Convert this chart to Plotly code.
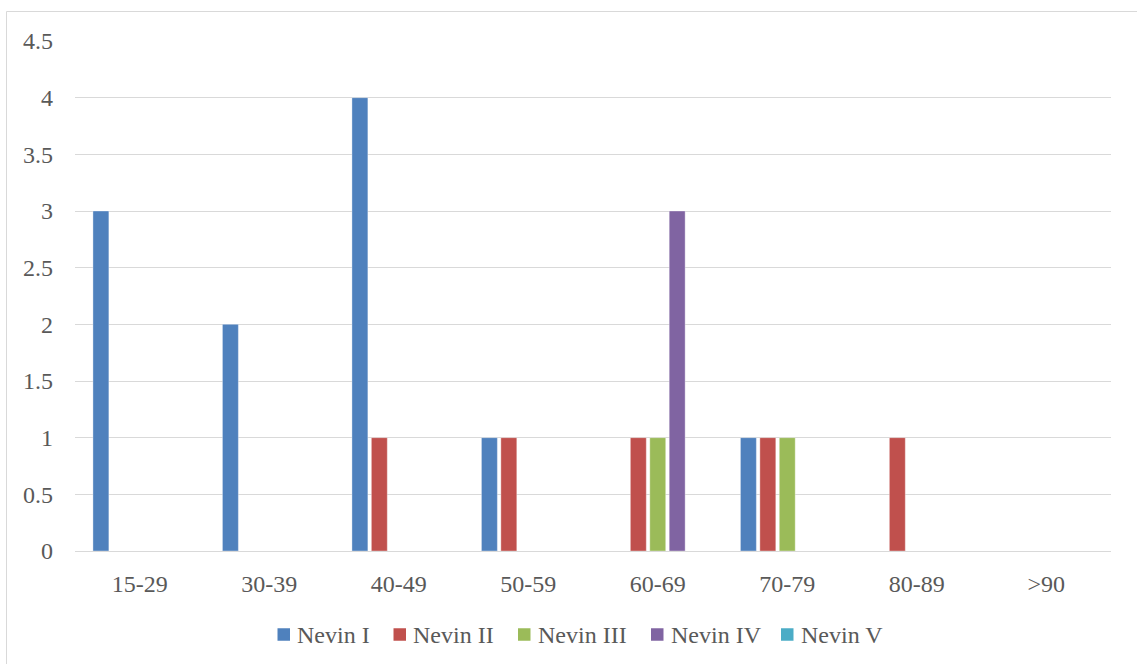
import plotly.graph_objects as go

# Age groups and case counts per Nevin stage
age_groups = ["15-29", "30-39", "40-49", "50-59", "60-69", "70-79", "80-89", ">90"]
nevin_1 = [3, 2, 4, 1, 0, 1, 0, 0]
nevin_2 = [0, 0, 1, 1, 1, 1, 1, 0]
nevin_3 = [0, 0, 0, 0, 1, 1, 0, 0]
nevin_4 = [0, 0, 0, 0, 3, 0, 0, 0]
nevin_5 = [0, 0, 0, 0, 0, 0, 0, 0]

series_names = ["Nevin I", "Nevin II", "Nevin III", "Nevin IV", "Nevin V"]
series_values = [nevin_1, nevin_2, nevin_3, nevin_4, nevin_5]
colors = ["#4F81BD", "#C0504D", "#9BBB59", "#8064A2", "#4BACC6"]

FONT = "Liberation Serif"
FONT_SIZE = 24
TEXT_COLOR = "#595959"
GRID = "#D9D9D9"

W, H = 1137, 664
L, R, T, B = 75, 26, 41, 113
pw, ph = W - L - R, H - T - B


def px_x(x):
    return (x - L) / pw


def px_y(y):
    return (H - B - y) / ph


fig = go.Figure()
for name, vals, col in zip(series_names, series_values, colors):
    fig.add_trace(go.Bar(
        name=name, x=age_groups, y=vals, showlegend=False,
        marker=dict(color=col, line=dict(color="rgba(255,255,255,0.35)", width=1)),
    ))

# Legend row below the axis: colour square followed by the series name
legend_left = [277.5, 393.5, 518, 651, 781]
SQ = 12.5
LEG_Y = 634.5
shapes = [dict(type="rect", xref="paper", yref="paper",
               x0=px_x(6.5), x1=px_x(1145), y0=px_y(675), y1=px_y(11.5),
               line=dict(color=GRID, width=1), fillcolor="rgba(0,0,0,0)", layer="below")]
annotations = []
for name, col, x0 in zip(series_names, colors, legend_left):
    shapes.append(dict(type="rect", xref="paper", yref="paper",
                       x0=px_x(x0), x1=px_x(x0 + SQ),
                       y0=px_y(LEG_Y + SQ / 2), y1=px_y(LEG_Y - SQ / 2),
                       line=dict(width=0), fillcolor=col))
    annotations.append(dict(xref="paper", yref="paper", x=px_x(x0 + SQ + 5), y=px_y(LEG_Y),
                            xanchor="left", yanchor="middle", showarrow=False, text=name,
                            font=dict(family=FONT, size=FONT_SIZE, color=TEXT_COLOR)))

fig.update_layout(
    width=W, height=H,
    margin=dict(l=L, r=R, t=T, b=B),
    barmode="group", bargap=0.25, bargroupgap=0.18,
    paper_bgcolor="white", plot_bgcolor="white",
    font=dict(family=FONT, size=FONT_SIZE, color=TEXT_COLOR),
    showlegend=False,
    xaxis=dict(showgrid=False, showline=False, ticks="", zeroline=False,
               ticklabelstandoff=16, tickfont=dict(size=FONT_SIZE)),
    yaxis=dict(range=[0, 4.5], dtick=0.5, showgrid=True, gridcolor=GRID, gridwidth=1,
               zeroline=True, zerolinecolor=GRID, zerolinewidth=1, showline=False,
               ticks="", ticklabelstandoff=21, tickfont=dict(size=FONT_SIZE),
               tickformat="~g"),
    shapes=shapes,
    annotations=annotations,
)

fig.write_html("out.html")
